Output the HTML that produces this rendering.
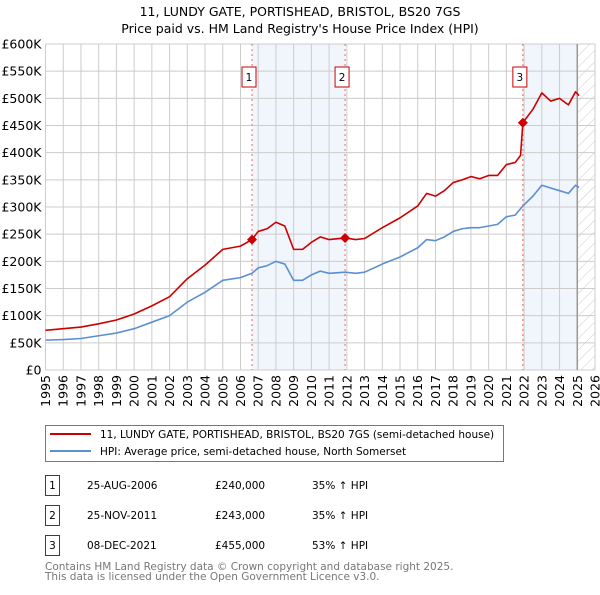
<!DOCTYPE html>
<html><head><meta charset="utf-8"><style>
body{margin:0;background:#fff;font-family:"Liberation Sans","DejaVu Sans",sans-serif}
svg text{font-family:"DejaVu Sans","Liberation Sans",sans-serif}
</style></head><body>
<svg id="c" width="600" height="590" xmlns="http://www.w3.org/2000/svg">
<defs><pattern id="h" width="8" height="8" patternUnits="userSpaceOnUse" patternTransform="rotate(45)"><line x1="0" y1="0" x2="0" y2="8" stroke="#ccc" stroke-width="1"/></pattern></defs>
<text x="300" y="16" text-anchor="middle" font-size="12.5">11, LUNDY GATE, PORTISHEAD, BRISTOL, BS20 7GS</text>
<text x="300" y="33" text-anchor="middle" font-size="12.5">Price paid vs. HM Land Registry's House Price Index (HPI)</text>
<g id="plot"></g>
<g>
<rect x="45.5" y="425.5" width="458" height="36" fill="#fff" stroke="#777"/>
<line x1="50" y1="434" x2="91" y2="434" stroke="#cc0000" stroke-width="2"/>
<text x="100" y="438" font-size="10.5">11, LUNDY GATE, PORTISHEAD, BRISTOL, BS20 7GS (semi-detached house)</text>
<line x1="50" y1="451" x2="91" y2="451" stroke="#5b8fd4" stroke-width="2"/>
<text x="100" y="455" font-size="10.5">HPI: Average price, semi-detached house, North Somerset</text>
</g>
<g id="table" font-size="10.5"></g>
<text x="45" y="570" font-size="10.5" fill="#777">Contains HM Land Registry data © Crown copyright and database right 2025.</text>
<text x="45" y="580" font-size="10.5" fill="#777">This data is licensed under the Open Government Licence v3.0.</text>
</svg>
<script>
const hpiYears=[1995,1996,1997,1998,1999,2000,2001,2002,2003,2004,2005,2006,2006.65,2007,2007.5,2008,2008.5,2009,2009.5,2010,2010.5,2011,2011.9,2012.5,2013,2014,2015,2016,2016.5,2017,2017.5,2018,2018.5,2019,2019.5,2020,2020.5,2021,2021.5,2021.93,2022.5,2023,2023.5,2024,2024.5,2024.9,2025.1];
const hpiValues=[55,56,58,63,68,76,88,100,125,143,165,170,178,188,192,200,195,165,165,175,182,178,180,178,180,195,208,225,240,238,245,255,260,262,262,265,268,282,285,302,320,340,335,330,325,340,336];
const priceYears=[1995,1996,1997,1998,1999,2000,2001,2002,2003,2004,2005,2006,2006.65,2007,2007.5,2008,2008.5,2009,2009.5,2010,2010.5,2011,2011.9,2012.5,2013,2014,2015,2016,2016.5,2017,2017.5,2018,2018.5,2019,2019.5,2020,2020.5,2021,2021.5,2021.8,2021.93,2022.5,2023,2023.5,2024,2024.5,2024.9,2025.1];
const priceValues=[73,76,79,85,92,103,118,135,168,193,222,228,240,255,260,272,265,222,222,235,245,240,243,240,242,262,280,302,325,320,330,345,350,356,352,358,358,378,382,395,455,480,510,495,500,488,512,505];
const saleLabels=["1","2","3"];
const saleYears=[2006.65,2011.9,2021.93];
const salePrices=[240,243,455];
const saleDates=["25-AUG-2006","25-NOV-2011","08-DEC-2021"];
const salePriceText=["£240,000","£243,000","£455,000"];
const saleHpiText=["35% ↑ HPI","35% ↑ HPI","53% ↑ HPI"];
const yTicks=[0,50,100,150,200,250,300,350,400,450,500,550,600];
const yTickLabels=["£0","£50K","£100K","£150K","£200K","£250K","£300K","£350K","£400K","£450K","£500K","£550K","£600K"];
const xTicks=[1995,1996,1997,1998,1999,2000,2001,2002,2003,2004,2005,2006,2007,2008,2009,2010,2011,2012,2013,2014,2015,2016,2017,2018,2019,2020,2021,2022,2023,2024,2025,2026];
const dataEnd=2025.0;
const NS="http://www.w3.org/2000/svg";
const X0=45.5,X1=595,Y0=370,Y1=44;
const x=v=>X0+(v-1995)/(2026-1995)*(X1-X0);
const y=v=>Y0-v/600*(Y0-Y1);
const plot=document.getElementById('plot');
function mk(tag,a,p){const e=document.createElementNS(NS,tag);for(const k in a)e.setAttribute(k,a[k]);(p||plot).appendChild(e);return e;}
for(let i=0;i<saleYears.length;i+=2){
 const end=i+1<saleYears.length?saleYears[i+1]:dataEnd;
 const r=mk('rect',{x:x(saleYears[i]),y:Y1,width:x(end)-x(saleYears[i]),height:Y0-Y1,fill:'#eef2fb',opacity:0.8});
 
 
}
const hz=mk('rect',{x:x(dataEnd),y:Y1,width:X1-x(dataEnd),height:Y0-Y1,fill:'url(#h)'});


yTicks.forEach((t,i)=>{
 mk('line',{x1:X0,x2:X1,y1:y(t),y2:y(t),stroke:'#ccc'});
 const tx=mk('text',{x:X0-4,y:y(t)+4.5,'text-anchor':'end','font-size':12.5});
 tx.textContent=yTickLabels[i];
 
 
});
xTicks.forEach(t=>{
 mk('line',{x1:x(t),x2:x(t),y1:Y1,y2:Y0,stroke:'#ccc'});
 const tx=mk('text',{x:0,y:0,'text-anchor':'end','font-size':12.5,transform:`translate(${x(t)+4.5},${Y0+5}) rotate(-90)`});
 tx.textContent=t;
 
 
});
mk('rect',{x:X0,y:Y1,width:X1-X0,height:Y0-Y1,fill:'none',stroke:'#ccc'});
mk('line',{x1:x(dataEnd),x2:x(dataEnd),y1:Y1,y2:Y0,stroke:'#999','stroke-width':1.5});
saleYears.forEach((s,i)=>{
 const l=mk('line',{x1:x(s),x2:x(s),y1:Y1,y2:Y0,stroke:'#e66','stroke-dasharray':'2,3'});
 
 
 const b=mk('rect',{x:x(s)-10,y:67,width:14,height:20,fill:'#fff',stroke:'#c00'});
 
 
 const t=mk('text',{x:x(s)-3,y:81,'text-anchor':'middle','font-size':10.5});
 t.textContent=saleLabels[i];
});
function line(xs,vs,col,name){
 const p=mk('polyline',{points:xs.map((v,i)=>x(v)+','+y(vs[i])).join(' '),fill:'none',stroke:col,'stroke-width':1.6,'stroke-linejoin':'round'});
 
 
}
line(hpiYears,hpiValues,'#5b8fd4','hpi-line');
line(priceYears,priceValues,'#cc0000','price-line');
saleYears.forEach((s,i)=>{
 const d=mk('path',{d:`M${x(s)},${y(salePrices[i])-5}l5,5l-5,5l-5,-5z`,fill:'#cc0000'});
 
 
});
const tb=document.getElementById('table');
saleLabels.forEach((lb,i)=>{
 const yy=475+i*30;
 const g=mk('g',{},tb);
 
 
 mk('rect',{x:45.5,y:yy+0.5,width:14,height:20,fill:'#fff',stroke:'#c00'},g);
 const vals=[[lb,52.5,'middle'],[saleDates[i],87,'start'],[salePriceText[i],215,'start'],[saleHpiText[i],312,'start']];
 vals.forEach(v=>{const t=mk('text',{x:v[1],y:yy+14,'text-anchor':v[2]},g);t.textContent=v[0];});
});
</script>
</body></html>
